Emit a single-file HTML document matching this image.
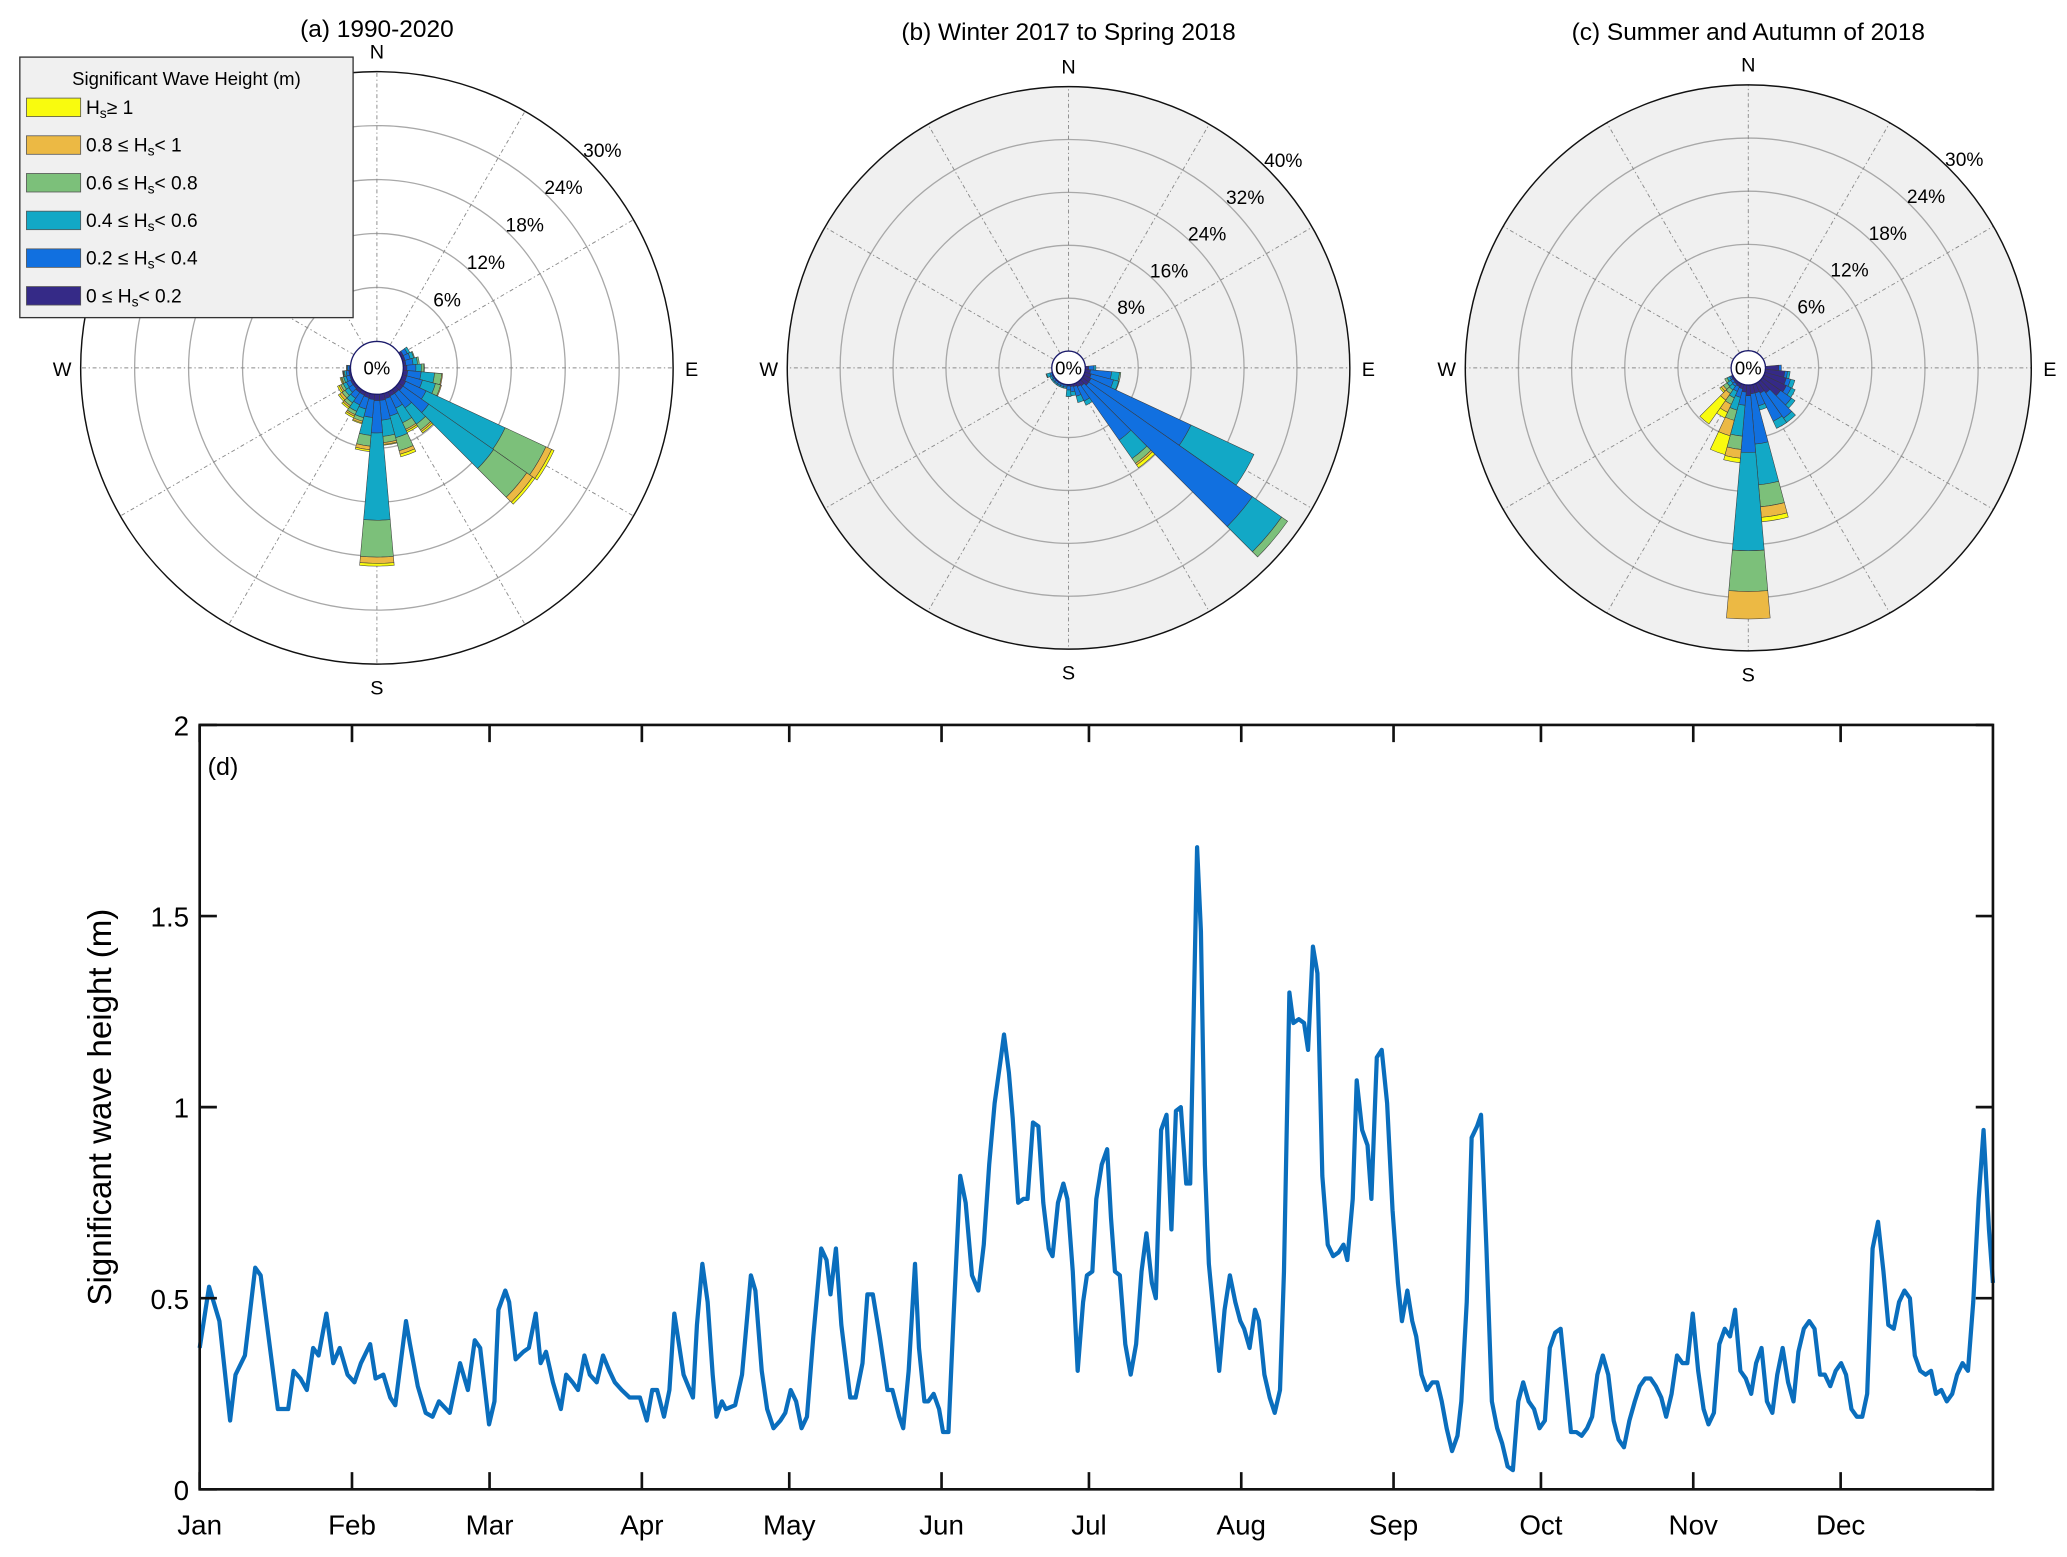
<!DOCTYPE html>
<html><head><meta charset="utf-8">
<style>
html,body{margin:0;padding:0;background:#fff;}
svg{display:block;font-family:"Liberation Sans",Arial,sans-serif;}
</style></head>
<body>
<svg id="fig" width="2067" height="1557" viewBox="0 0 1563 1177" xmlns="http://www.w3.org/2000/svg">
<g id="roses"></g>
<g id="legend">
  <rect x="15" y="43" width="252" height="197" fill="#f0f0f0" stroke="#333" stroke-width="1"/>
  <text x="141" y="64" font-size="14" text-anchor="middle">Significant Wave Height (m)</text>
</g>
<g id="line"></g>
</svg>
<script>
// ---------- rose data ----------
const classColors = ["#352a87","#1170e0","#12a8c6","#7cc07a","#ecb944","#f9fb0e"];
const classLabels = ["0 \u2264 H","0.2 \u2264 H","0.4 \u2264 H","0.6 \u2264 H","0.8 \u2264 H","H"];
const classSuffix = ["< 0.2","< 0.4","< 0.6","< 0.8","< 1","\u2265 1"];

const dirsA = [60,70,80,90,100,110,120,130,140,150,160,170,180,190,200,210,220,230,240,250,260,270];
const valsA = [
 [0.3,0.5,0.3,0,0,0],[0.3,0.6,0.4,0.1,0,0],[0.3,0.8,0.5,0.2,0,0],[0.4,1.0,0.6,0.3,0.05,0],
 [0.5,1.5,1.5,0.8,0.1,0],[0.5,1.8,1.5,0.6,0.1,0],[0.6,2.5,9.7,5.0,0.7,0.3],[0.6,3.5,8.8,4.5,0.8,0.3],
 [0.5,2,2.2,0.8,0.2,0.2],[0.5,1.5,1.8,0.8,0.2,0.2],[0.6,2,2.5,1.5,0.4,0.3],[0.7,2.2,1.8,0.7,0.2,0.1],
 [0.7,3.6,9.7,4.1,0.7,0.3],[0.6,2,2,1.2,0.4,0.2],[0.5,1.3,1,0.4,0.2,0.1],[0.4,1.2,0.8,0.4,0.2,0.2],
 [0.4,0.8,0.6,0.4,0.2,0.2],[0.3,0.6,0.5,0.4,0.3,0.2],[0.3,0.5,0.4,0.3,0.2,0.2],[0.2,0.4,0.3,0.2,0.1,0.1],
 [0.2,0.3,0.2,0.1,0.05,0.05],[0.1,0.2,0.1,0.05,0,0]];
const ringsA = [6,12,18,24,30];

const dirsB = [90,100,110,120,130,140,150,160,170,180,190,200,210,220,230,240,250];
const valsB = [
 [0.5,0.8,0.3,0,0,0],[0.8,3.2,1.2,0.2,0,0],[1.0,3.5,0.8,0.1,0,0],[1.2,16.7,10.5,0,0,0],
 [1.2,30.2,5.4,1.1,0,0],[0.8,10,3.4,0.9,0.3,0.5],[0.6,2.4,0.7,0,0,0],[0.4,1.5,1.0,0,0,0],
 [0.3,0.8,0.6,0,0,0],[0.2,0.6,1.0,0,0,0],[0.1,0.3,0.2,0,0,0],[0.1,0.3,0.2,0,0,0],
 [0.1,0.3,0.2,0,0,0],[0.1,0.3,0.2,0,0,0],[0.1,0.3,0.2,0,0,0],[0.1,0.2,0.3,0,0,0],[0.1,0.3,0.5,0.1,0,0]];
const ringsB = [8,16,24,32,40];

const dirsC = [90,100,110,120,130,140,150,160,170,180,190,200,210,220,230,240];
const valsC = [
 [1.5,0.3,0,0,0,0],[2.2,0.3,0.3,0,0,0],[2.5,0.5,0.5,0,0,0],[2.8,0.6,0.5,0,0,0],
 [2.5,1.5,0.5,0,0,0],[1.5,3.5,0.6,0,0,0],[1.2,3.5,0.9,0,0,0],[1.0,1.5,0.5,0,0,0],
 [1.0,5.7,4.6,2.5,1.2,0.5],[1.2,6.4,11.1,4.6,3.1,0],[0.8,1.5,3.5,1.5,1.0,0.5],[0.5,1,1.5,1.2,1.8,2.2],
 [0.4,0.6,0.8,0.8,1.0,0.7],[0.3,0.3,0.5,0.5,0.9,3.3],[0.2,0.3,0.5,0.5,0.3,0.2],[0.2,0.2,0.3,0.3,0,0]];
const ringsC = [6,12,18,24,30];

// ---------- line data ----------
const monthNames = ["Jan","Feb","Mar","Apr","May","Jun","Jul","Aug","Sep","Oct","Nov","Dec"];
const monthStarts = [0,31,59,90,120,151,181,212,243,273,304,334];
const yTicks = [0,0.5,1,1.5,2];
const yTickLabels = ["0","0.5","1","1.5","2"];
const days = [0,1.9,4.0,6.2,7.3,9.2,11.3,12.4,15.9,18.0,19.1,20.5,21.8,23.1,24.2,25.8,27.2,28.5,30.1,31.5,32.8,34.7,35.8,37.4,38.8,39.8,42.0,42.8,44.4,46.0,47.4,48.7,50.9,53.0,54.6,56.0,57.1,58.9,60.0,60.8,62.2,63.0,64.3,65.9,67.0,68.4,69.4,70.5,71.9,73.5,74.6,75.9,77.0,78.3,79.4,80.8,82.1,83.4,84.5,85.9,87.5,89.6,91.0,92.1,93.1,94.5,95.6,96.6,98.5,100.4,101.2,102.3,103.4,104.4,105.2,106.3,107.1,109.0,110.4,112.2,113.1,114.4,115.5,116.8,118.2,119.2,120.3,121.4,122.5,123.6,124.9,126.5,127.6,128.4,129.5,130.6,132.4,133.5,134.9,135.9,137.0,138.4,140.0,141.0,142.4,143.2,144.3,145.6,146.4,147.5,148.3,149.4,150.5,151.3,152.4,153.4,154.8,155.9,157.2,158.5,159.6,160.7,161.8,163.1,163.7,164.7,165.5,166.6,167.7,168.5,169.6,170.7,171.7,172.8,173.6,174.7,175.8,176.6,177.7,178.7,179.8,180.6,181.7,182.5,183.6,184.7,185.5,186.3,187.3,188.4,189.5,190.6,191.7,192.7,193.8,194.6,195.7,196.8,197.8,198.7,199.7,200.8,201.6,203.0,203.8,204.6,205.4,206.5,207.5,208.6,209.7,210.8,211.8,212.6,213.7,214.8,215.6,216.7,217.8,218.8,219.9,220.7,221.8,222.6,223.7,224.8,225.6,226.6,227.5,228.5,229.6,230.7,231.8,232.8,233.6,234.7,235.5,236.6,237.7,238.5,239.6,240.6,241.7,242.8,243.9,244.7,245.8,246.8,247.6,248.7,249.8,250.9,251.9,252.8,253.8,254.9,256.0,256.8,257.9,258.9,260.0,260.8,261.9,263.0,264.1,265.1,266.2,267.3,268.4,269.4,270.5,271.6,272.7,273.8,274.8,275.9,277.0,278.1,279.1,280.2,281.3,282.4,283.4,284.5,285.6,286.7,287.8,288.8,289.9,291.0,292.1,293.1,294.2,295.3,296.4,297.5,298.5,299.6,300.7,301.8,302.8,303.9,305.0,306.1,307.1,308.2,309.3,310.4,311.5,312.5,313.6,314.7,315.8,316.8,317.9,319.0,320.1,321.1,322.2,323.3,324.4,325.4,326.5,327.6,328.7,329.8,330.8,331.9,333.0,334.1,335.1,336.2,337.3,338.4,339.4,340.5,341.6,342.7,343.7,344.8,345.9,347.0,348.1,349.1,350.2,351.3,352.4,353.4,354.5,355.6,356.7,357.7,358.8,359.9,361.0,362.1,363.1,364.2,365];
const heights = [0.37,0.53,0.44,0.18,0.30,0.35,0.58,0.56,0.21,0.21,0.31,0.29,0.26,0.37,0.35,0.46,0.33,0.37,0.30,0.28,0.33,0.38,0.29,0.30,0.24,0.22,0.44,0.38,0.27,0.20,0.19,0.23,0.20,0.33,0.26,0.39,0.37,0.17,0.23,0.47,0.52,0.49,0.34,0.36,0.37,0.46,0.33,0.36,0.28,0.21,0.30,0.28,0.26,0.35,0.30,0.28,0.35,0.31,0.28,0.26,0.24,0.24,0.18,0.26,0.26,0.19,0.26,0.46,0.30,0.24,0.43,0.59,0.49,0.30,0.19,0.23,0.21,0.22,0.30,0.56,0.52,0.31,0.21,0.16,0.18,0.20,0.26,0.23,0.16,0.19,0.40,0.63,0.60,0.51,0.63,0.43,0.24,0.24,0.33,0.51,0.51,0.40,0.26,0.26,0.19,0.16,0.31,0.59,0.37,0.23,0.23,0.25,0.21,0.15,0.15,0.44,0.82,0.75,0.56,0.52,0.64,0.85,1.01,1.13,1.19,1.09,0.97,0.75,0.76,0.76,0.96,0.95,0.75,0.63,0.61,0.75,0.80,0.76,0.57,0.31,0.49,0.56,0.57,0.76,0.85,0.89,0.71,0.57,0.56,0.38,0.30,0.38,0.57,0.67,0.54,0.50,0.94,0.98,0.68,0.99,1.00,0.80,0.80,1.68,1.46,0.85,0.59,0.44,0.31,0.47,0.56,0.49,0.44,0.42,0.37,0.47,0.44,0.30,0.24,0.20,0.26,0.57,1.30,1.22,1.23,1.22,1.15,1.42,1.35,0.82,0.64,0.61,0.62,0.64,0.60,0.76,1.07,0.94,0.90,0.76,1.13,1.15,1.01,0.73,0.54,0.44,0.52,0.44,0.40,0.30,0.26,0.28,0.28,0.23,0.16,0.10,0.14,0.23,0.49,0.92,0.95,0.98,0.63,0.23,0.16,0.12,0.06,0.05,0.23,0.28,0.23,0.21,0.16,0.18,0.37,0.41,0.42,0.28,0.15,0.15,0.14,0.16,0.19,0.30,0.35,0.30,0.18,0.13,0.11,0.18,0.23,0.27,0.29,0.29,0.27,0.24,0.19,0.25,0.35,0.33,0.33,0.46,0.31,0.21,0.17,0.20,0.38,0.42,0.40,0.47,0.31,0.29,0.25,0.33,0.37,0.23,0.20,0.30,0.37,0.28,0.23,0.36,0.42,0.44,0.42,0.30,0.30,0.27,0.31,0.33,0.30,0.21,0.19,0.19,0.25,0.63,0.70,0.57,0.43,0.42,0.49,0.52,0.50,0.35,0.31,0.30,0.31,0.25,0.26,0.23,0.25,0.30,0.33,0.31,0.49,0.76,0.94,0.68,0.54];

const NS="http://www.w3.org/2000/svg";
function mk(parent, tag, attrs, txt){
  const e=document.createElementNS(NS,tag);
  for(const k in attrs) e.setAttribute(k,attrs[k]);
  if(txt!==undefined) e.textContent=txt;
  parent.appendChild(e); return e;
}
function pt(cx,cy,r,deg){const a=deg*Math.PI/180;return [cx+r*Math.sin(a), cy-r*Math.cos(a)];}

// ---------- rose drawing ----------
function drawRose(cfg){
  const g=mk(document.getElementById('roses'),'g',{});
  
  
  const rr = p => cfg.hole + cfg.k*p;
  const rmax = rr(cfg.rings[cfg.rings.length-1]);
  const bg = mk(g,'circle',{cx:cfg.cx,cy:cfg.cy,r:rmax,fill:cfg.bg,stroke:'none'});
  
  
  cfg.rings.slice(0,-1).forEach(p=>{
    const c=mk(g,'circle',{cx:cfg.cx,cy:cfg.cy,r:rr(p),fill:'none',stroke:'#a8a8a8','stroke-width':1});
    
    
  });
  for(let a=0;a<360;a+=30){
    const p1=pt(cfg.cx,cfg.cy,cfg.hole,a), p2=pt(cfg.cx,cfg.cy,rmax,a);
    const l=mk(g,'line',{x1:p1[0],y1:p1[1],x2:p2[0],y2:p2[1],stroke:'#8a8a8a','stroke-width':0.7,'stroke-dasharray':'3,2,1,2'});
    
    
  }
  const half=5;
  cfg.dirs.forEach((d,i)=>{
    let cum=0;
    cfg.vals[i].forEach((v,ci)=>{
      if(v<=0) return;
      const r0=rr(cum), r1=rr(cum+v); cum+=v;
      const a=pt(cfg.cx,cfg.cy,r0,d-half), b=pt(cfg.cx,cfg.cy,r1,d-half), c=pt(cfg.cx,cfg.cy,r1,d+half), e=pt(cfg.cx,cfg.cy,r0,d+half);
      const path=`M${a[0]},${a[1]} L${b[0]},${b[1]} A${r1},${r1} 0 0 1 ${c[0]},${c[1]} L${e[0]},${e[1]} A${r0},${r0} 0 0 0 ${a[0]},${a[1]}Z`;
      const w=mk(g,'path',{d:path,fill:classColors[ci],stroke:'#3a3a3a','stroke-width':0.4});
      
      
    });
  });
  const oc=mk(g,'circle',{cx:cfg.cx,cy:cfg.cy,r:rmax,fill:'none',stroke:'#111','stroke-width':1.1});
  
  
  const h=mk(g,'circle',{cx:cfg.cx,cy:cfg.cy,r:cfg.hole,fill:'#fff',stroke:'#1a1a6a','stroke-width':1});
  
  
  const z=mk(g,'text',{x:cfg.cx,y:cfg.cy+5,'font-size':14,'text-anchor':'middle'},'0%');
  
  
  cfg.rings.forEach(p=>{
    const q=pt(cfg.cx,cfg.cy,rr(p)+13,46);
    const t=mk(g,'text',{x:q[0],y:q[1]+5,'font-size':14.5,'text-anchor':'middle'},p+'%');
    
    
  });
  [['N',0,-rmax-10],['S',0,rmax+23],['W',-rmax-14,6],['E',rmax+14,6]].forEach(c=>{
    const t=mk(g,'text',{x:cfg.cx+c[1],y:cfg.cy+c[2],'font-size':15,'text-anchor':'middle'},c[0]);
    
    
  });
  const tt=mk(g,'text',{x:cfg.cx,y:cfg.ty,'font-size':18.5,'text-anchor':'middle'},cfg.title);
  
  
}
drawRose({name:'rose-1990-2020',cx:285,cy:278,hole:20,k:6.8,rings:ringsA,dirs:dirsA,vals:valsA,bg:'#ffffff',title:'(a) 1990-2020',ty:28});
drawRose({name:'rose-winter-spring',cx:808,cy:278,hole:12.7,k:5,rings:ringsB,dirs:dirsB,vals:valsB,bg:'#f0f0f0',title:'(b) Winter 2017 to Spring 2018',ty:30});
drawRose({name:'rose-summer-autumn',cx:1322,cy:278,hole:13,k:6.7,rings:ringsC,dirs:dirsC,vals:valsC,bg:'#f0f0f0',title:'(c) Summer and Autumn of 2018',ty:30});

// ---------- legend ----------
(function(){
  const lg=document.getElementById('legend');
  for(let i=0;i<6;i++){
    const ci=5-i, y=74+i*28.5;
    const r=mk(lg,'rect',{x:20,y:y,width:41,height:14,fill:classColors[ci],stroke:'#555','stroke-width':0.6});
    
    
    const t=mk(lg,'text',{x:65,y:y+12,'font-size':14.5});
    
    
    const s1=document.createElementNS(NS,'tspan'); s1.textContent=classLabels[ci]; t.appendChild(s1);
    const s2=document.createElementNS(NS,'tspan'); s2.textContent='s'; s2.setAttribute('font-size','10.5'); s2.setAttribute('dy','3'); t.appendChild(s2);
    const s3=document.createElementNS(NS,'tspan'); s3.textContent=classSuffix[ci]; s3.setAttribute('dy','-3'); t.appendChild(s3);
  }
})();

// ---------- line chart ----------
(function(){
  const g=document.getElementById('line');
  const L=151,R=1507,T=548,B=1126;
  const xs=d=>L+(R-L)*d/365, ys=v=>B-(B-T)*v/2;
  let d='';
  days.forEach((dy,i)=>{d+=(i?'L':'M')+xs(dy).toFixed(1)+','+ys(heights[i]).toFixed(1);});
  const p=mk(g,'path',{d:d,fill:'none',stroke:'#0a6ebd','stroke-width':3.2,'stroke-linejoin':'round'});
  
  
  const box=mk(g,'rect',{x:L,y:T,width:R-L,height:B-T,fill:'none',stroke:'#111','stroke-width':2});
  
  
  yTicks.forEach((v,i)=>{
    const y=ys(v);
    const a=mk(g,'line',{x1:L,y1:y,x2:L+13,y2:y,stroke:'#111','stroke-width':2});
    
    
    const b=mk(g,'line',{x1:R,y1:y,x2:R-13,y2:y,stroke:'#111','stroke-width':2});
    
    
    const t=mk(g,'text',{x:L-8,y:y+8,'font-size':21,'text-anchor':'end'},yTickLabels[i]);
    
    
  });
  monthStarts.forEach((m,i)=>{
    const x=xs(m);
    const a=mk(g,'line',{x1:x,y1:B,x2:x,y2:B-13,stroke:'#111','stroke-width':2});
    
    
    const b=mk(g,'line',{x1:x,y1:T,x2:x,y2:T+13,stroke:'#111','stroke-width':2});
    
    
    const t=mk(g,'text',{x:x,y:B+34,'font-size':21,'text-anchor':'middle'},monthNames[i]);
    
    
  });
  const yt=mk(g,'text',{x:0,y:0,'font-size':25,'text-anchor':'middle',transform:'translate(84,837) rotate(-90)'},'Significant wave height (m)');
  
  
  const pl=mk(g,'text',{x:157,y:586,'font-size':19},'(d)');
  
  
})();
</script>
</body></html>
